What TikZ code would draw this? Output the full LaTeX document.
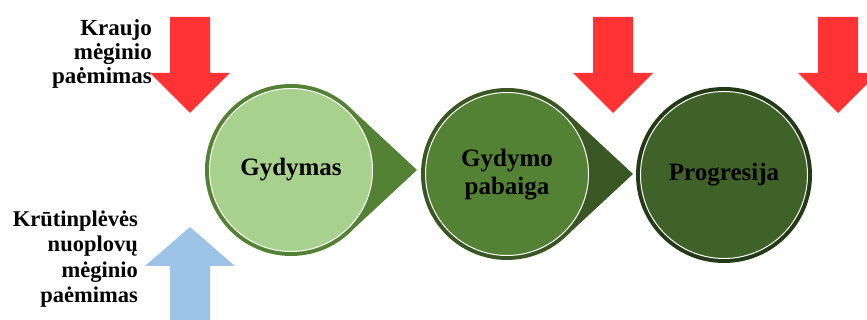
\documentclass[tikz,border=0pt]{standalone}
\usepackage{fontspec}
\setmainfont{Liberation Serif}
\usetikzlibrary{calc}
\definecolor{redA}{HTML}{FF3333}
\definecolor{blueA}{HTML}{9DC3E6}
\definecolor{gA}{HTML}{A9D18E}
\definecolor{gAb}{HTML}{548235}
\definecolor{gB}{HTML}{548235}
\definecolor{gBb}{HTML}{385723}
\definecolor{gC}{HTML}{3F6229}
\definecolor{gCb}{HTML}{223A16}
\tikzset{
  lbl/.style={font=\bfseries\fontsize{23}{24}\selectfont, align=right, inner sep=0pt},
  ctext/.style={font=\bfseries\fontsize{25}{28}\selectfont, align=center, inner sep=0pt},
  innerc/.style={draw=white, line width=1pt},
}
\begin{document}
\begin{tikzpicture}[x=1pt,y=1pt]
\useasboundingbox (0,0) rectangle (867,320);
% red arrows
\foreach \cx in {190,613,838}{
  \fill[redA] (\cx-20,303) -- (\cx+20,303) -- (\cx+20,247) -- (\cx+40,247) -- (\cx,207) -- (\cx-40,247) -- (\cx-20,247) -- cycle;
}
% blue arrow
\fill[blueA] (170,0) -- (210,0) -- (210,54) -- (235,54) -- (190,93) -- (145,54) -- (170,54) -- cycle;
% circle 1 with tip
\coordinate (c1) at (291,150);
\fill[gAb] (c1) ++(43:86) arc[start angle=43, end angle=317, radius=86] -- ($(c1)+(126,0)$) -- cycle;
\fill[gA] (c1) circle[radius=81.5];
\draw[innerc] (c1) circle[radius=81.5];
% circle 2 with tip
\coordinate (c2) at (507,146);
\fill[gBb] (c2) ++(43:86) arc[start angle=43, end angle=317, radius=86] -- ($(c2)+(126,0)$) -- cycle;
\fill[gB] (c2) circle[radius=81.5];
\draw[innerc] (c2) circle[radius=81.5];
% circle 3
\coordinate (c3) at (724,145);
\fill[gCb] (c3) circle[radius=88];
\fill[gC] (c3) circle[radius=83.5];
\draw[innerc] (c3) circle[radius=83.5];
% texts
\node[ctext] (t1) at (c1) {Gydymas};
\node[ctext] (t2) at ($(c2)+(0,-1)$) {Gydymo\\pabaiga};
\node[ctext] (t3) at (c3) {Progresija};
\node[lbl, anchor=east] (l1) at (152,266) {Kraujo\\mėginio\\paėmimas};
\node[lbl, anchor=east, font=\bfseries\fontsize{22.5}{25.5}\selectfont] (l2) at (138,61) {Krūtinplėvės\\nuoplovų\\mėginio\\paėmimas};
\end{tikzpicture}
\end{document}
